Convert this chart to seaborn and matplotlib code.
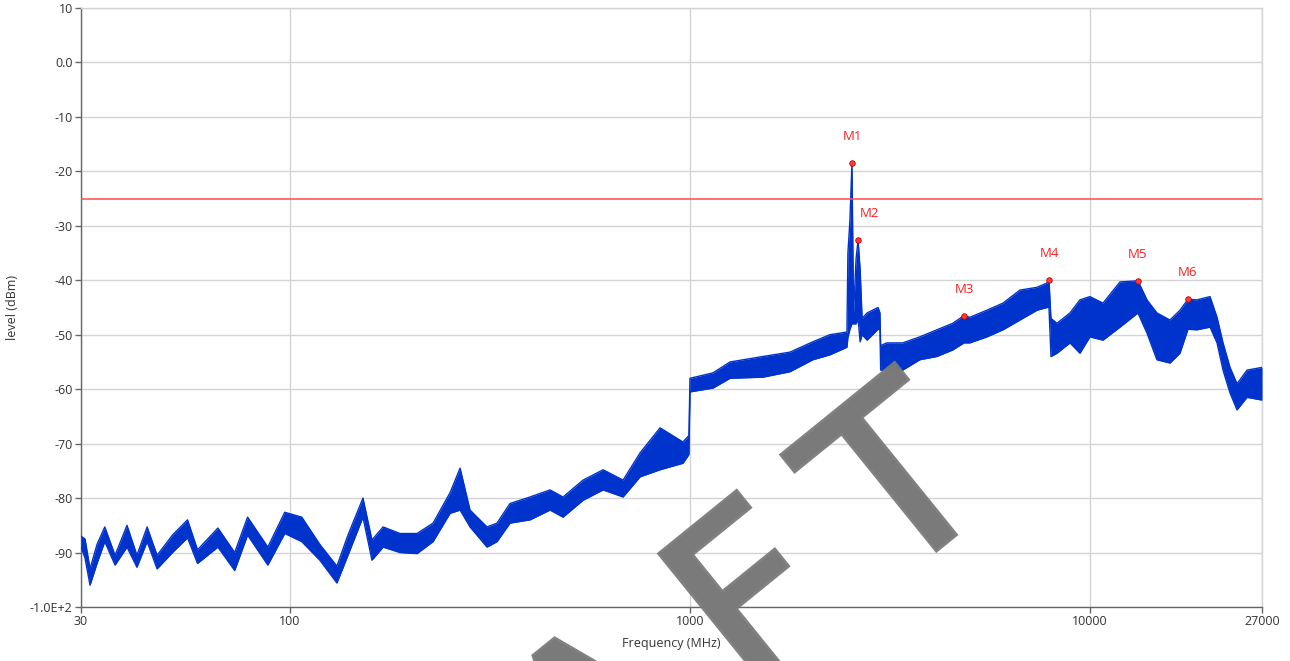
import numpy as np
import pandas as pd
import matplotlib
matplotlib.use("Agg")
import matplotlib.pyplot as plt
import matplotlib.patheffects as pe
from matplotlib.ticker import FixedLocator, NullLocator
import seaborn as sns

# spectrum envelope (MHz, lower edge dBm, upper edge dBm)
freq_mhz = [30, 30.7, 31.6, 32.9, 34.4, 36.5, 39.1, 41.4, 43.9, 46.5,
            50.8, 55.4, 58.7, 66.0, 72.7, 78.3, 88.0, 97.0, 107.0, 118.7,
            131.0, 139.6, 152.2, 160.3, 170.9, 188.4, 207.8, 227.9, 251.4, 266.3,
            282.0, 311.0, 329.4, 355.0, 398.3, 447.0, 481.9, 540.7, 606.9, 680.9,
            750.9, 842.6, 961.5, 995, 1001, 1143, 1261, 1523, 1780, 2031,
            2240, 2472, 2486, 2515, 2545, 2568, 2606, 2636, 2667, 2698,
            2777, 2957, 2990, 3002, 3108, 3408, 3760, 4148, 4547, 4851,
            5017, 5536, 6072, 6697, 7388, 7825, 7915, 8007, 8289, 8933,
            9462, 10020, 10805, 11917, 13215, 13918, 14741, 15891, 16832, 17625,
            18563, 20015, 20838, 21570, 22459, 23382, 24767, 27000]
level_low = [-89, -91, -96, -92, -88, -92.3, -89, -92.7, -88, -93,
             -90, -87.3, -92, -89, -93.3, -86.8, -92.3, -86.5, -88, -91.4,
             -95.6, -90.5, -83.5, -91.4, -89, -90, -90.2, -88, -82.8, -82.2,
             -85.3, -89, -88, -84.6, -84, -82.2, -83.5, -80.4, -78.5, -79.8,
             -76.1, -74.8, -73.6, -72, -60.5, -59.8, -58, -57.8, -56.8, -54.6,
             -53.7, -52.3, -50.5, -49, -48, -48, -48, -47, -51.3, -50,
             -51, -49, -49, -56.5, -56.5, -56.5, -54.6, -54, -52.8, -51.5,
             -51.5, -50.4, -49.1, -47.3, -45.5, -45, -45, -54, -53.4, -51.5,
             -53.4, -50.4, -51, -48.6, -46, -49.7, -54.6, -55.2, -53.4, -49,
             -49.1, -48.6, -51.5, -56.5, -60.7, -63.8, -61.5, -62]
level_high = [-87, -87.5, -93, -88.5, -85.3, -90.5, -85, -90.5, -85.3, -90.5,
              -86.8, -84, -89.5, -85.5, -90, -83.5, -89, -82.6, -83.5, -88.5,
              -92.5, -86.8, -80, -87.7, -85.3, -86.5, -86.5, -84.6, -79, -74.5,
              -82.2, -85.3, -84.6, -81, -79.8, -78.5, -79.8, -76.7, -74.8, -76.7,
              -71.7, -67.1, -69.7, -68.5, -58, -57, -55, -54, -53.2, -51.3,
              -50, -49.5, -35, -29, -18.4, -46, -36, -32.6, -38, -47,
              -46, -45, -46, -52, -51.5, -51.5, -50.4, -49.1, -47.9, -46.5,
              -46.8, -45.5, -44.2, -41.8, -41.3, -40.5, -40, -47, -47.9, -46,
              -43.6, -43, -44.2, -40.3, -40.1, -43.6, -46, -47.3, -45.5, -43.5,
              -43.6, -43, -46.8, -51.5, -56, -59, -56.5, -56]

# markers
marker_names = ["M1", "M2", "M3", "M4", "M5", "M6"]
marker_freq = [2545, 2636, 4851, 7915, 13215, 17625]
marker_level = [-18.4, -32.6, -46.5, -40.0, -40.1, -43.5]

limit_level = -25

x_ticks = [30, 100, 1000, 10000, 27000]
x_tick_labels = ["30", "100", "1000", "10000", "27000"]
y_ticks = [-100, -90, -80, -70, -60, -50, -40, -30, -20, -10, 0, 10]
y_tick_labels = ["-1.0E+2", "-90", "-80", "-70", "-60", "-50", "-40",
                 "-30", "-20", "-10", "0.0", "10"]

spectrum = pd.DataFrame({"freq": freq_mhz, "low": level_low, "high": level_high})
markers = pd.DataFrame({"name": marker_names, "freq": marker_freq, "level": marker_level})

sns.set_theme(style="white")
plt.rcParams["font.family"] = ["Open Sans", "DejaVu Sans"]

trace_color = "#0033cc"
text_color = "#333333"

fig = plt.figure(figsize=(12.9, 6.61), dpi=100)
ax = fig.add_axes([0.0628, 0.0817, 0.9155, 0.9062])

ax.fill_between(spectrum["freq"], spectrum["low"], spectrum["high"],
                color=trace_color, linewidth=0, zorder=3)
sns.lineplot(data=spectrum, x="freq", y="high", ax=ax, color=trace_color,
             linewidth=1.0, zorder=3)
sns.lineplot(data=spectrum, x="freq", y="low", ax=ax, color=trace_color,
             linewidth=1.0, zorder=3)

ax.axhline(limit_level, color="#ff4a4a", linewidth=1.1, zorder=4)

sns.scatterplot(data=markers, x="freq", y="level", ax=ax, color="#ff3b3b",
                edgecolor="#c00000", linewidth=0.6, s=16, zorder=6)
for name, f, lv in zip(marker_names, marker_freq, marker_level):
    dx = 8 if name == "M2" else 0
    ax.annotate(name, (f, lv), xytext=(dx, 19), textcoords="offset points",
                ha="center", va="center", fontsize=9.5, color="#ff2020")

ax.set_xscale("log")
ax.set_xlim(30, 27000)
ax.set_ylim(-100, 10)
ax.xaxis.set_major_locator(FixedLocator(x_ticks))
ax.xaxis.set_minor_locator(NullLocator())
ax.set_xticklabels(x_tick_labels)
ax.set_yticks(y_ticks)
ax.set_yticklabels(y_tick_labels)

ax.grid(True, color="#d4d4d4", linewidth=1.0, zorder=0)
ax.set_axisbelow(True)
for side in ["left", "bottom"]:
    ax.spines[side].set_color("#666666")
    ax.spines[side].set_linewidth(1.0)
for side in ["top", "right"]:
    ax.spines[side].set_color("#d4d4d4")
    ax.spines[side].set_linewidth(1.0)

ax.tick_params(axis="both", which="major", direction="out", length=4, width=1,
               color="#666666", labelsize=9, labelcolor=text_color, pad=2,
               left=True, bottom=True)
ax.set_xlabel("Frequency (MHz)", fontsize=9, color=text_color, labelpad=6)
ax.set_ylabel("level (dBm)", fontsize=9, color=text_color, labelpad=8)

# watermark, runs off the bottom edge like in the source export
wm = fig.text(1001 / 1290, 1 - 497 / 661, "D\u200a\u200aR\u200a\u200aA\u200a\u200aF\u200a\u200aT",
              fontsize=168, fontweight="normal", family="DejaVu Sans", color="#7a7a7a",
              alpha=0.95, rotation=39, rotation_mode="anchor", ha="right",
              va="baseline", zorder=10)
wm.set_path_effects([pe.withStroke(linewidth=4, foreground="#7a7a7a",
                                   joinstyle="miter", capstyle="projecting")])

fig.savefig("out.png", dpi=100)
